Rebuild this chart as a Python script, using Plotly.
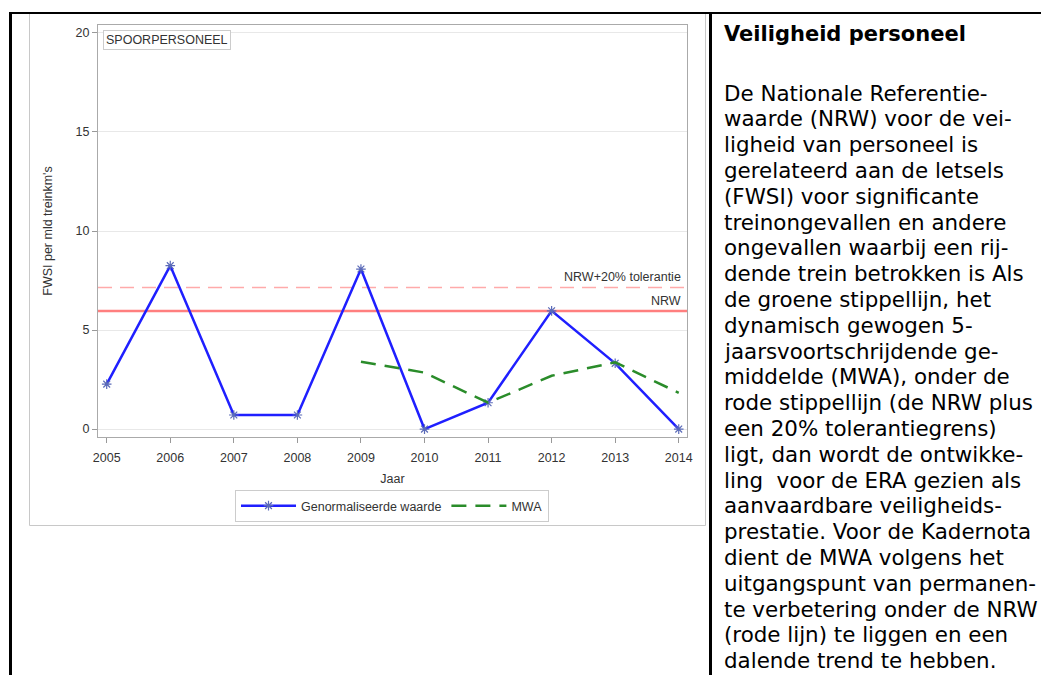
import plotly.graph_objects as go

# ---------------- data ----------------
years = [2005, 2006, 2007, 2008, 2009, 2010, 2011, 2012, 2013, 2014]
genormaliseerd = [2.27, 8.25, 0.71, 0.71, 8.08, 0.0, 1.33, 5.97, 3.32, 0.0]
mwa_years = [2009, 2010, 2011, 2012, 2013, 2014]
mwa = [3.40, 2.85, 1.33, 2.69, 3.37, 1.83]
nrw = 5.96
nrw_tol = 7.15
y_ticks = [0, 5, 10, 15, 20]
x_ticks = years

panel_title = "Veiligheid personeel"
panel_lines = [
    "De Nationale Referentie-",
    "waarde (NRW) voor de vei-",
    "ligheid van personeel is",
    "gerelateerd aan de letsels",
    "(FWSI) voor significante",
    "treinongevallen en andere",
    "ongevallen waarbij een rij-",
    "dende trein betrokken is Als",
    "de groene stippellijn, het",
    "dynamisch gewogen 5-",
    "jaarsvoortschrijdende ge-",
    "middelde (MWA), onder de",
    "rode stippellijn (de NRW plus",
    "een 20% tolerantiegrens)",
    "ligt, dan wordt de ontwikke-",
    "ling&nbsp;&nbsp;voor de ERA gezien als",
    "aanvaardbare veiligheids-",
    "prestatie. Voor de Kadernota",
    "dient de MWA volgens het",
    "uitgangspunt van permanen-",
    "te verbetering onder de NRW",
    "(rode lijn) te liggen en een",
    "dalende trend te hebben.",
]

# ---------------- layout geometry (screen pixels) ----------------
W, H = 1041, 675
PL, PR, PT, PB = 98, 687, 25, 437  # plot frame in screen pixels


def px(x):
    return (x - PL) / (PR - PL)


def py(y):
    return (PB - y) / (PB - PT)


FONT = "Liberation Sans, Arial, sans-serif"
TXT = "#333333"
FS = 12.5

fig = go.Figure()

fig.add_trace(go.Scatter(
    x=years, y=genormaliseerd, mode="lines+markers",
    name="Genormaliseerde waarde",
    line=dict(color="#1f1fff", width=2.5),
    marker=dict(symbol="asterisk-open", size=8,
                line=dict(color="#5a6ab8", width=1.2), color="#5a6ab8"),
))
fig.add_trace(go.Scatter(
    x=mwa_years, y=mwa, mode="lines", name="MWA",
    line=dict(color="#2a8c2a", width=2.5, dash="15px,9px"),
))

# reference lines
fig.add_shape(type="line", xref="paper", yref="y", x0=0, x1=1, y0=nrw, y1=nrw,
              line=dict(color="#ff7f7f", width=2.5), layer="below")
fig.add_shape(type="line", xref="paper", yref="y", x0=0, x1=1, y0=nrw_tol, y1=nrw_tol,
              line=dict(color="#ffaaaa", width=1.5, dash="14px,8px"), layer="below")

fig.add_annotation(x=px(683), xref="paper", y=nrw_tol, yref="y", text="NRW+20% tolerantie",
                   showarrow=False, xanchor="right", yanchor="bottom", yshift=1,
                   font=dict(family=FONT, size=FS, color=TXT))
fig.add_annotation(x=px(683), xref="paper", y=nrw, yref="y", text="NRW",
                   showarrow=False, xanchor="right", yanchor="bottom", yshift=1,
                   font=dict(family=FONT, size=FS, color=TXT))

# inset label
fig.add_annotation(x=px(103), xref="paper", y=py(30), yref="paper", text="SPOORPERSONEEL",
                   showarrow=False, xanchor="left", yanchor="top",
                   bordercolor="#cccccc", borderwidth=1, borderpad=2, bgcolor="white",
                   font=dict(family=FONT, size=FS, color=TXT))

# outer graph border (light gray)
fig.add_shape(type="rect", xref="paper", yref="paper",
              x0=px(29.5), x1=px(705.5), y0=py(525.5), y1=py(13),
              line=dict(color="#c8c8c8", width=1), layer="below")

# black table borders
fig.add_shape(type="line", xref="paper", yref="paper", x0=px(9), x1=px(1045),
              y0=py(13), y1=py(13), line=dict(color="black", width=2))
fig.add_shape(type="line", xref="paper", yref="paper", x0=px(10.5), x1=px(10.5),
              y0=py(12), y1=py(680), line=dict(color="black", width=3))
fig.add_shape(type="line", xref="paper", yref="paper", x0=px(710.5), x1=px(710.5),
              y0=py(12), y1=py(680), line=dict(color="black", width=3))

# right panel text
PANEL_FONT = "DejaVu Sans, Verdana, sans-serif"
fig.add_annotation(x=px(722), xref="paper", y=py(34), yref="paper",
                   text="<b>" + panel_title + "</b>", showarrow=False,
                   xanchor="left", yanchor="middle",
                   font=dict(family=PANEL_FONT, size=21, color="black"))
for i, line in enumerate(panel_lines):
    fig.add_annotation(x=px(722), xref="paper", y=py(93 + i * 25.8), yref="paper",
                       text=line, showarrow=False, xanchor="left", yanchor="middle",
                       font=dict(family=PANEL_FONT, size=21.4, color="black"))

fig.update_layout(
    width=W, height=H,
    margin=dict(l=PL, r=W - PR, t=PT, b=H - PB, pad=0),
    paper_bgcolor="white", plot_bgcolor="white",
    font=dict(family=FONT, size=FS, color=TXT),
    showlegend=True,
    legend=dict(orientation="h", x=px(392), xanchor="center", y=py(490), yanchor="top",
                bordercolor="#cccccc", borderwidth=1, bgcolor="white",
                font=dict(family=FONT, size=FS, color=TXT), itemwidth=55),
    xaxis=dict(range=[2004.863, 2014.13], tickvals=x_ticks,
               ticks="outside", ticklen=5, tickcolor="#999999",
               showline=True, linecolor="#aaaaaa", mirror=True, linewidth=1,
               showgrid=False, zeroline=False, ticklabelstandoff=4,
               title=dict(text="Jaar", standoff=10, font=dict(size=FS, color=TXT)),
               tickfont=dict(size=FS, color=TXT)),
    yaxis=dict(range=[-0.4, 20.4], tickvals=y_ticks,
               ticks="outside", ticklen=5, tickcolor="#999999",
               showline=True, linecolor="#aaaaaa", mirror=True, linewidth=1,
               showgrid=True, gridcolor="#e8e8e8", gridwidth=1, zeroline=False,
               title=dict(text="FWSI per mld treinkm's", standoff=20, font=dict(size=FS, color=TXT)),
               tickfont=dict(size=FS, color=TXT)),
)

fig.write_html("out.html", config={"displayModeBar": False},
               post_script="document.body.style.margin='0';document.body.style.overflow='hidden';")
